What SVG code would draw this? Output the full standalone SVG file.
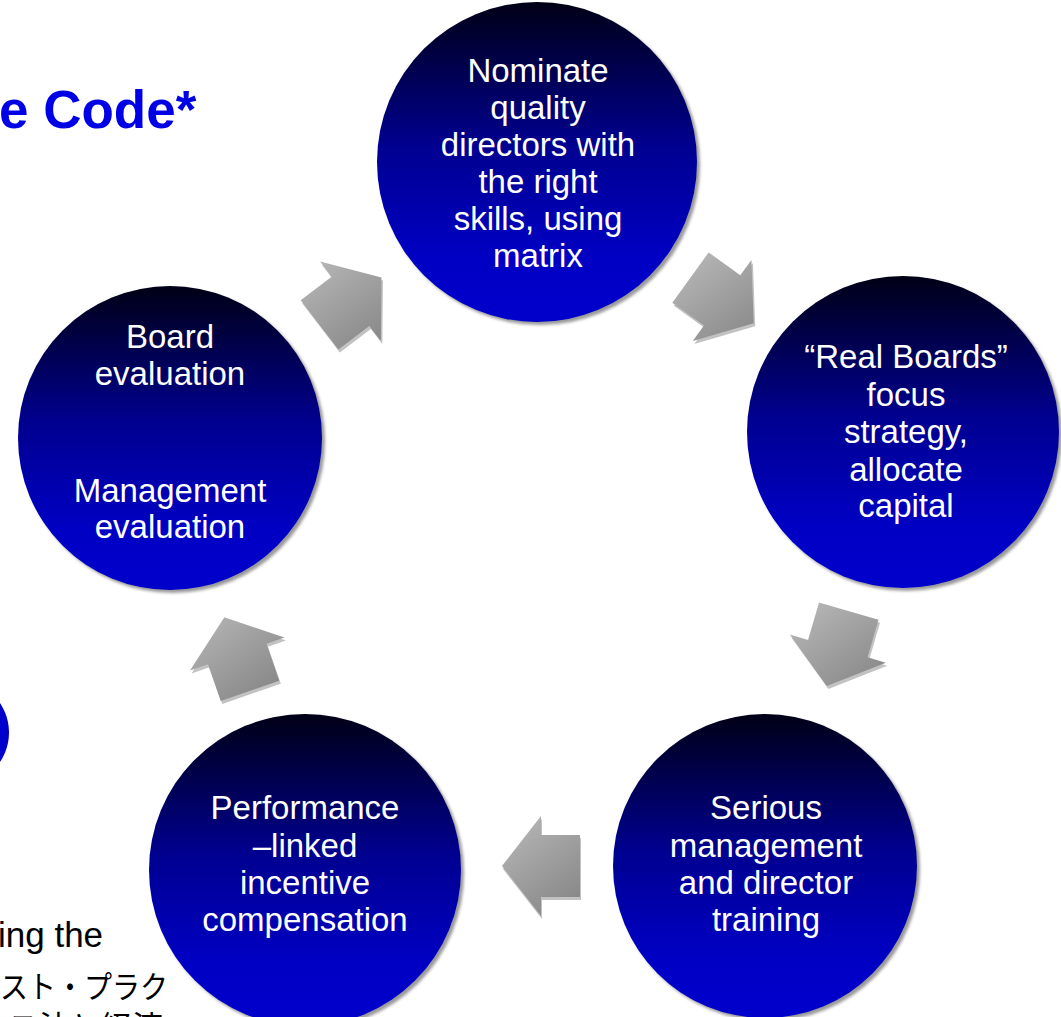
<svg xmlns="http://www.w3.org/2000/svg" width="1061" height="1017" viewBox="0 0 1061 1017">
<defs>
  <linearGradient id="gBlue" x1="0" y1="0" x2="0" y2="1">
    <stop offset="0" stop-color="#000016"/>
    <stop offset="0.45" stop-color="#000090"/>
    <stop offset="0.8" stop-color="#0000c4"/>
    <stop offset="1" stop-color="#0000cc"/>
  </linearGradient>
  <filter id="blur" x="-10%" y="-10%" width="120%" height="120%">
    <feGaussianBlur stdDeviation="1.5"/>
  </filter>
  <polygon id="arr" points="-39,-31 0,-31 0,-50 39,0 0,50 0,31 -39,31"/>
  <linearGradient id="ga" gradientUnits="userSpaceOnUse" x1="-30" y1="-40" x2="30" y2="40" gradientTransform="rotate(37.4)">
    <stop offset="0" stop-color="#b4b4b4"/><stop offset="1" stop-color="#888888"/>
  </linearGradient>
  <linearGradient id="gb" gradientUnits="userSpaceOnUse" x1="-30" y1="-40" x2="30" y2="40" gradientTransform="rotate(-35.9)">
    <stop offset="0" stop-color="#b4b4b4"/><stop offset="1" stop-color="#888888"/>
  </linearGradient>
  <linearGradient id="gc" gradientUnits="userSpaceOnUse" x1="-30" y1="-40" x2="30" y2="40" gradientTransform="rotate(-106.3)">
    <stop offset="0" stop-color="#b4b4b4"/><stop offset="1" stop-color="#888888"/>
  </linearGradient>
  <linearGradient id="gd" gradientUnits="userSpaceOnUse" x1="-30" y1="-40" x2="30" y2="40" gradientTransform="rotate(-180)">
    <stop offset="0" stop-color="#b4b4b4"/><stop offset="1" stop-color="#888888"/>
  </linearGradient>
  <linearGradient id="ge" gradientUnits="userSpaceOnUse" x1="-30" y1="-40" x2="30" y2="40" gradientTransform="rotate(109.2)">
    <stop offset="0" stop-color="#b4b4b4"/><stop offset="1" stop-color="#888888"/>
  </linearGradient>
</defs>
<style>
  .t { font-family: "Liberation Sans", Arial, sans-serif; font-size: 33px; fill: #ffffff; text-anchor: middle; }
  .sh { fill: #9a9a9a; filter: url(#blur); }
  .disc { fill: url(#gBlue); }
  .ash { fill: #c2c2c2; }
  .side { font-family: "Liberation Sans", "Noto Sans CJK JP", sans-serif; fill: #000000; }
  .jp { font-family: "Noto Sans CJK JP", sans-serif; fill: #000000; font-size: 31px; }
</style>
<rect width="1061" height="1017" fill="#ffffff"/>

<g id="background-text">
  <text x="-1" y="128" font-family="Liberation Sans, Arial, sans-serif" font-size="53" font-weight="bold" fill="#0000e6">e Code*</text>
  <circle cx="-44" cy="732.5" r="53" fill="#0000cc"/>
  <text class="side" x="-2" y="947" font-size="35">ing the</text>
  <text class="jp" x="0" y="998" textLength="168" lengthAdjust="spacingAndGlyphs">スト・プラク</text>
  <text class="jp" x="8" y="1038">ス法と経済</text>
</g>

<g id="connectors">
  <use href="#arr" class="ash" transform="translate(352,304.3) rotate(-37.4)"/>
  <use href="#arr" fill="url(#ga)" transform="translate(350.5,301.3) rotate(-37.4)"/>
  <use href="#arr" class="ash" transform="translate(723.6,303.4) rotate(35.9)"/>
  <use href="#arr" fill="url(#gb)" transform="translate(722.1,300.4) rotate(35.9)"/>
  <use href="#arr" class="ash" transform="translate(839.3,651.6) rotate(106.3)"/>
  <use href="#arr" fill="url(#gc)" transform="translate(837.8,648.6) rotate(106.3)"/>
  <use href="#arr" class="ash" transform="translate(542,869) rotate(180)"/>
  <use href="#arr" fill="url(#gd)" transform="translate(541,866) rotate(180)"/>
  <use href="#arr" class="ash" transform="translate(238.7,657) rotate(-109.2)"/>
  <use href="#arr" fill="url(#ge)" transform="translate(237.2,654) rotate(-109.2)"/>
</g>

<g id="node-nominate">
  <circle class="sh" cx="540" cy="165" r="160"/>
  <circle class="disc" cx="537" cy="162" r="160"/>
  <text class="t" x="538" y="82">Nominate</text>
  <text class="t" x="538" y="119">quality</text>
  <text class="t" x="538" y="156">directors with</text>
  <text class="t" x="538" y="193">the right</text>
  <text class="t" x="538" y="230">skills, using</text>
  <text class="t" x="538" y="267">matrix</text>
</g>

<g id="node-real-boards">
  <circle class="sh" cx="906" cy="435" r="156"/>
  <circle class="disc" cx="903" cy="432" r="156"/>
  <text class="t" x="906" y="368">“Real Boards”</text>
  <text class="t" x="906" y="406">focus</text>
  <text class="t" x="906" y="443">strategy,</text>
  <text class="t" x="906" y="481">allocate</text>
  <text class="t" x="906" y="517">capital</text>
</g>

<g id="node-training">
  <circle class="sh" cx="768" cy="869" r="152"/>
  <circle class="disc" cx="765" cy="866" r="152"/>
  <text class="t" x="766" y="819">Serious</text>
  <text class="t" x="766" y="857">management</text>
  <text class="t" x="766" y="894">and director</text>
  <text class="t" x="766" y="931">training</text>
</g>

<g id="node-compensation">
  <circle class="sh" cx="308" cy="873" r="156"/>
  <circle class="disc" cx="305" cy="870" r="156"/>
  <text class="t" x="305" y="819">Performance</text>
  <text class="t" x="305" y="857">–linked</text>
  <text class="t" x="305" y="894">incentive</text>
  <text class="t" x="305" y="931">compensation</text>
</g>

<g id="node-evaluation">
  <circle class="sh" cx="173" cy="441" r="152"/>
  <circle class="disc" cx="170" cy="438" r="152"/>
  <text class="t" x="170" y="348">Board</text>
  <text class="t" x="170" y="385">evaluation</text>
  <text class="t" x="170" y="502">Management</text>
  <text class="t" x="170" y="538">evaluation</text>
</g>
</svg>
